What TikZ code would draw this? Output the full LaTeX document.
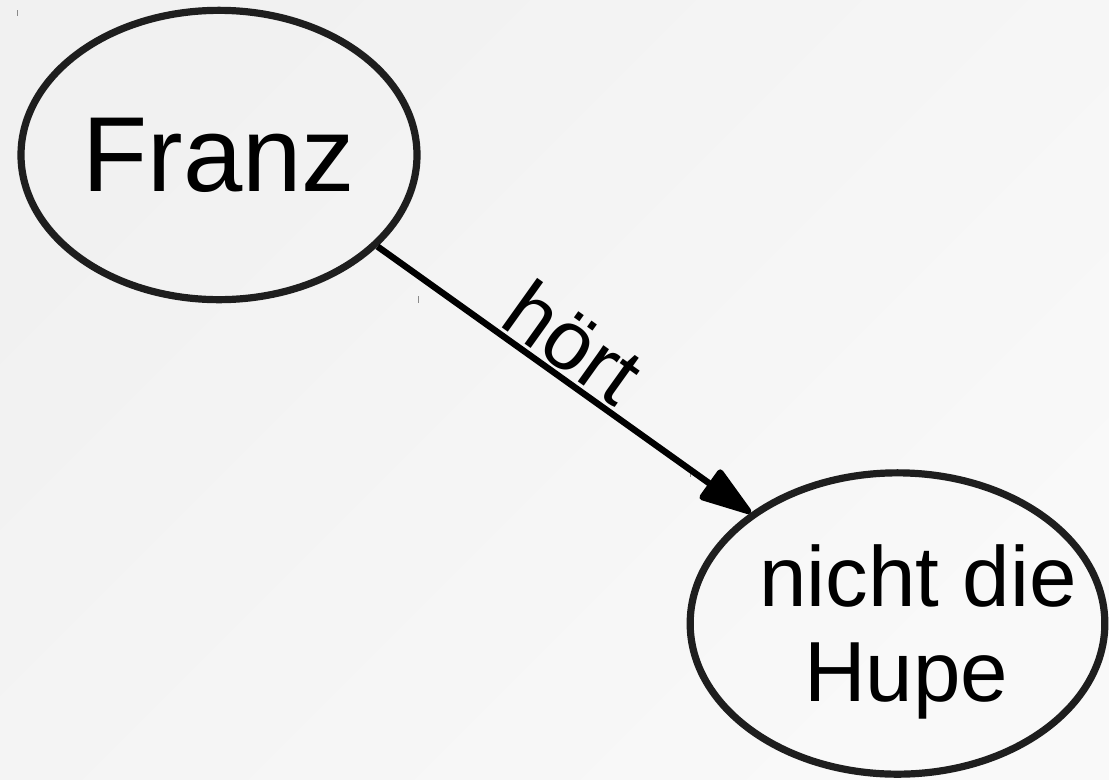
\documentclass[tikz,border=0pt]{standalone}
\usepackage{fontspec}
\setmainfont{Liberation Sans}
\usetikzlibrary{shapes.geometric,arrows.meta}
\definecolor{bgA}{HTML}{F1F1F1}
\definecolor{bgB}{HTML}{F9F9F9}
\definecolor{edge}{HTML}{1E1E1E}
\definecolor{tick}{HTML}{8A8A8A}
\tikzset{
  bubble/.style={ellipse, draw=edge, line width=5.4pt, inner sep=0pt},
  arrowline/.style={draw=black, line width=4.8pt, -{Triangle[length=44pt,width=28pt,round]}},
  lbl/.style={text=black, inner sep=0pt, align=center},
  tickmark/.style={draw=tick, line width=0.7pt}
}
\begin{document}
\begin{tikzpicture}[x=0.75pt,y=-0.75pt]
\useasboundingbox (0,0) rectangle (1109,779);
\shade[top color=bgA, bottom color=bgB, shading angle=45] (0,0) rectangle (1109,779);
% faint tick marks
\draw[tickmark] (17,10) -- (17,16);
\draw[tickmark] (418,296) -- (418,303);
\draw[tickmark] (690,471) -- (690,477);
% nodes
\node[bubble, minimum width=297pt, minimum height=217pt, font=\fontsize{80}{96}\selectfont] (franz) at (219,155) {Franz};
\node[bubble, minimum width=311pt, minimum height=226pt] (hupe) at (897.5,623.5) {};
\node[lbl, font=\fontsize{64}{71}\selectfont] (hupetext) at (912,632) {\hspace*{9pt}nicht die\\Hupe\hspace*{9pt}};
% connector
\draw[arrowline] (franz.-30) -- node[pos=0.47, sloped, above, inner sep=2pt, font=\fontsize{63}{70}\selectfont] (hoert) {hört} (hupe.143.6);
\end{tikzpicture}
\end{document}
